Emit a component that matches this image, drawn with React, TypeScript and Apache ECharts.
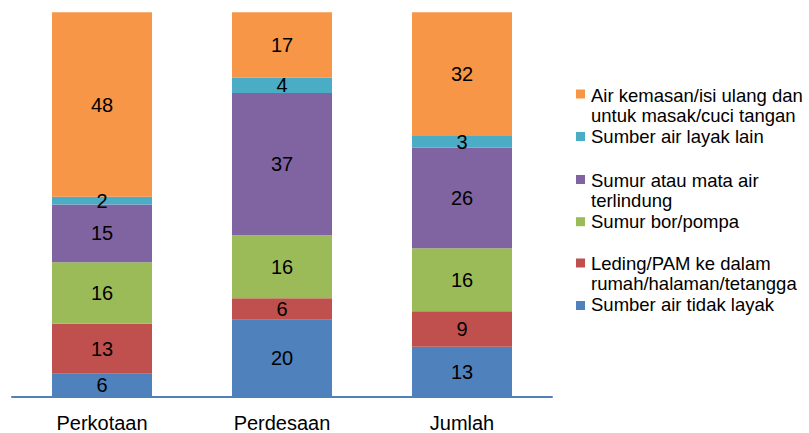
import React, { useEffect, useRef } from "react";
import * as echarts from "echarts";

const categories = ["Perkotaan", "Perdesaan", "Jumlah"];

const seriesNames = [
  "Sumber air tidak layak",
  "Leding/PAM ke dalam rumah/halaman/tetangga",
  "Sumur bor/pompa",
  "Sumur atau mata air terlindung",
  "Sumber air layak lain",
  "Air kemasan/isi ulang dan untuk masak/cuci tangan",
];

const legendLines = [
  ["Sumber air tidak layak"],
  ["Leding/PAM ke dalam", "rumah/halaman/tetangga"],
  ["Sumur bor/pompa"],
  ["Sumur atau mata air", "terlindung"],
  ["Sumber air layak lain"],
  ["Air kemasan/isi ulang dan", "untuk masak/cuci tangan"],
];

const tidakLayak = [6, 20, 13.0];
const leding = [13, 5.6, 9.2];
const sumurBor = [16, 16.4, 16.4];
const sumurTerlindung = [15, 37, 26.2];
const layakLain = [2, 4, 3.0];
const airKemasan = [48, 17, 32.2];

const seriesValues = [tidakLayak, leding, sumurBor, sumurTerlindung, layakLain, airKemasan];

const colors = ["#4F81BD", "#C0504D", "#9BBB59", "#8064A2", "#4BACC6", "#F79646"];

// legend layout (first line centre y, marker centre y) per series
const legendFirstLineY = [304.5, 263, 221.7, 180, 136, 95];
const legendMarkerY = [305.5, 263, 221.7, 179.5, 136.5, 94];

const FONT = "Liberation Sans";

export default function App() {
  const ref = useRef<HTMLDivElement>(null);
  useEffect(() => {
    if (!ref.current) return;
    const chart = echarts.init(ref.current, null, { renderer: "svg" });
    const lineH = 20.7;
    const graphics: any[] = [];
    seriesNames.forEach((_, i) => {
      graphics.push({
        type: "rect",
        shape: { x: 576, y: legendMarkerY[i] - 4.5, width: 9, height: 9 },
        style: { fill: colors[i] },
      });
      graphics.push({
        type: "text",
        x: 591,
        y: legendFirstLineY[i] - lineH / 2,
        style: {
          text: legendLines[i].join("\n"),
          fontSize: 18.5,
          fontFamily: FONT,
          fill: "#000",
          lineHeight: lineH,
          verticalAlign: "top",
          align: "left",
        },
      });
    });
    chart.setOption({
      animation: false,
      backgroundColor: "#fff",
      grid: { left: 12, width: 540, top: 12.3, bottom: 36.3, containLabel: false },
      xAxis: {
        type: "category",
        data: categories,
        axisLine: { show: true, lineStyle: { color: "#4F81BD", width: 2 } },
        axisTick: { show: false },
        axisLabel: { color: "#000", fontSize: 20, fontFamily: FONT, margin: 16 },
      },
      yAxis: {
        type: "value",
        min: 0,
        max: 100,
        show: false,
        splitLine: { show: false },
      },
      graphic: graphics,
      series: seriesNames.map((name, i) => ({
        name,
        type: "bar",
        stack: "total",
        barWidth: 100,
        data: seriesValues[i],
        itemStyle: { color: colors[i] },
        label: {
          show: true,
          position: "inside",
          color: "#000",
          fontSize: 20,
          fontFamily: FONT,
          formatter: (p: any) => String(Math.round(p.value)),
        },
      })),
    });
    return () => chart.dispose();
  }, []);
  return <div ref={ref} style={{ width: 809, height: 433, position: "absolute", left: 0, top: 0 }} />;
}
